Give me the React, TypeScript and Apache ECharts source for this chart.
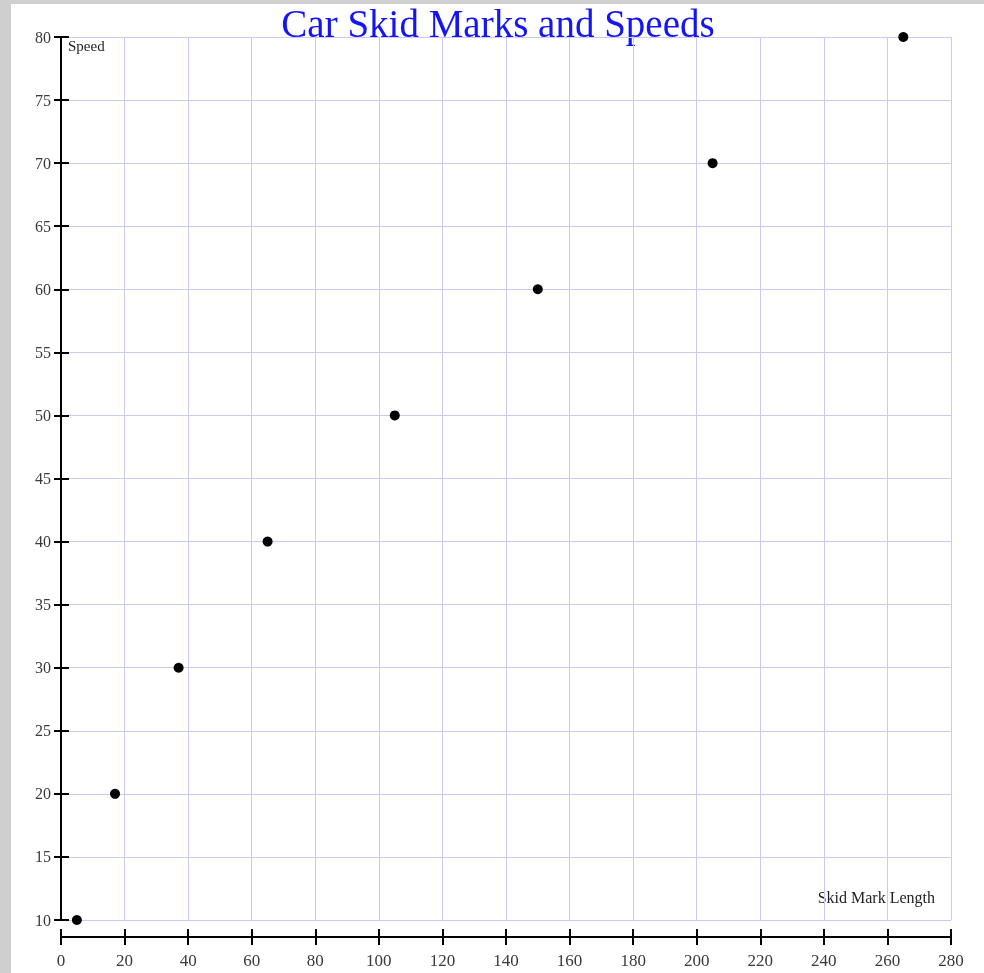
import React, { useEffect, useRef } from "react";
import * as echarts from "echarts";

const skidLengths = [5, 17, 37, 65, 105, 150, 205, 265];
const speeds = [10, 20, 30, 40, 50, 60, 70, 80];
const titleText = "Car Skid Marks and Speeds";
const xName = "Skid Mark Length";
const yName = "Speed";

const serif = "'Liberation Serif', 'Times New Roman', serif";
const gridColor = "#c9c9f2";

export default function App() {
  const ref = useRef<HTMLDivElement>(null);
  useEffect(() => {
    document.body.style.margin = "0";
    const chart = echarts.init(ref.current!, undefined, { renderer: "svg" });
    const data = skidLengths.map((x, i) => [x, speeds[i]]);
    const axisLabel = { fontFamily: serif, fontSize: 16, color: "#3a3a3a" };
    chart.setOption({
      animation: false,
      backgroundColor: "transparent",
      grid: { left: 61, top: 37, right: 33, bottom: 53 },
      graphic: [
        { type: "rect", shape: { x: 0, y: 0, width: 984, height: 973 }, style: { fill: "#cfcfcf" }, z: -10, silent: true },
        { type: "rect", shape: { x: 11, y: 4, width: 973, height: 969 }, style: { fill: "#ffffff" }, z: -9, silent: true },
        {
          type: "text", x: 498, y: 23,
          style: { text: titleText, fontFamily: serif, fontSize: 39, fill: "#1414f5", textAlign: "center", textVerticalAlign: "middle" },
        },
        {
          type: "text", x: 68, y: 46,
          style: { text: yName, fontFamily: serif, fontSize: 15, fill: "#222", textAlign: "left", textVerticalAlign: "middle" },
        },
        {
          type: "text", x: 935, y: 897,
          style: { text: xName, fontFamily: serif, fontSize: 16, fill: "#222", textAlign: "right", textVerticalAlign: "middle" },
        },
      ],
      xAxis: [
        {
          type: "value", min: 0, max: 280, interval: 20, offset: 17,
          axisLine: { show: true, lineStyle: { color: "#000", width: 2 } },
          axisTick: { show: true, length: 8, lineStyle: { color: "#000", width: 2 } },
          axisLabel: { ...axisLabel, fontSize: 17, margin: 15 },
          splitLine: { show: true, lineStyle: { color: gridColor, width: 1 } },
        },
        {
          type: "value", min: 0, max: 280, interval: 20, offset: 17, position: "bottom",
          axisLine: { show: false },
          axisTick: { show: true, inside: true, length: 8, lineStyle: { color: "#000", width: 2 } },
          axisLabel: { show: false },
          splitLine: { show: false },
        },
      ],
      yAxis: [
        {
          type: "value", min: 10, max: 80, interval: 5,
          axisLine: { show: true, lineStyle: { color: "#000", width: 2 } },
          axisTick: { show: true, length: 7, lineStyle: { color: "#000", width: 2 } },
          axisLabel: { ...axisLabel, margin: 10 },
          splitLine: { show: true, lineStyle: { color: gridColor, width: 1 } },
        },
        {
          type: "value", min: 10, max: 80, interval: 5, position: "left",
          axisLine: { show: false },
          axisTick: { show: true, inside: true, length: 8, lineStyle: { color: "#000", width: 2 } },
          axisLabel: { show: false },
          splitLine: { show: false },
        },
      ],
      series: [
        {
          type: "scatter", data, symbol: "circle", symbolSize: 10,
          itemStyle: { color: "#000", opacity: 1 },
        },
      ],
    });
    return () => chart.dispose();
  }, []);
  return <div ref={ref} style={{ position: "fixed", left: 0, top: 0, width: 984, height: 973 }} />;
}
